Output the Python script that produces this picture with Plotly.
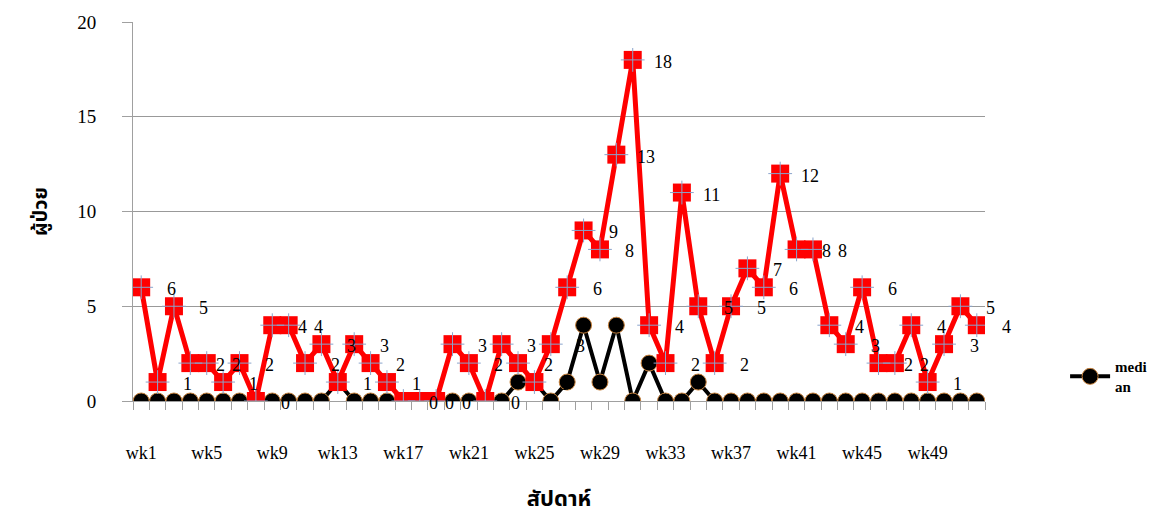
import plotly.graph_objects as go

weeks = [f"wk{i}" for i in range(1, 53)]
cases = [6, 1, 5, 2, 2, 1, 2, 0, 4, 4, 2, 3, 1, 3, 2, 1, 0, 0, 0, 3,
         2, 0, 3, 2, 1, 3, 6, 9, 8, 13, 18, 4, 2, 11, 5, 2, 5, 7, 6, 12,
         8, 8, 4, 3, 6, 2, 2, 4, 1, 3, 5, 4]
median = [0, 0, 0, 0, 0, 0, 0, 0, 0, 0, 0, 0, 1, 0, 0, 0, 0, 0, 0, 0,
          0, 0, 0, 1, 1, 0, 1, 4, 1, 4, 0, 2, 0, 0, 1, 0, 0, 0, 0, 0,
          0, 0, 0, 0, 0, 0, 0, 0, 0, 0, 0, 0]
tick_text = [w if i % 4 == 0 else "" for i, w in enumerate(weeks)]

serif = "Liberation Serif, Times New Roman, serif"
thai = "Noto Sans Thai, Noto Serif Thai, Loma, Tahoma, sans-serif"

fig = go.Figure()
fig.add_trace(go.Scatter(
    x=weeks, y=median, mode="lines+markers", name="<b>medi<br>an</b>",
    line=dict(color="black", width=4),
    marker=dict(symbol="circle", size=16, color="black",
                line=dict(color="#c8823c", width=1)),
))
fig.add_trace(go.Scatter(
    x=weeks, y=cases, mode="lines+markers", name="cases", showlegend=False,
    line=dict(color="#ff0000", width=5),
    marker=dict(symbol="square", size=18, color="#ff0000",
                line=dict(color="#ff0000", width=0)),
))
fig.add_trace(go.Scatter(
    x=weeks, y=cases, mode="markers", showlegend=False, hoverinfo="skip",
    marker=dict(symbol="cross-thin", size=17,
                line=dict(color="#8aa4cc", width=1)),
))

for w, v in zip(weeks, cases):
    fig.add_annotation(x=w, y=v, text=str(v), showarrow=False,
                       xshift=30, yshift=-2,
                       font=dict(family=serif, size=18, color="black"))

fig.update_layout(
    width=1155, height=521,
    margin=dict(l=125, r=178, t=14, b=128, autoexpand=False),
    paper_bgcolor="white", plot_bgcolor="white",
    showlegend=True,
    legend=dict(x=1.094, y=0.065, xanchor="left", yanchor="middle",
                itemwidth=40,
                font=dict(family=serif, size=15, color="black"),
                bgcolor="rgba(0,0,0,0)"),
    xaxis=dict(
        type="category", range=[-0.5, 51.5], automargin=False,
        tickmode="array", tickvals=weeks, ticktext=tick_text, tickangle=0,
        tickson="boundaries", ticks="outside", ticklen=8,
        tickcolor="#a0a0a0", showline=True, linecolor="#a0a0a0",
        showgrid=False, ticklabelstandoff=35,
        tickfont=dict(family=serif, size=18, color="black"),
        title=dict(text="<b>สัปดาห์</b>", standoff=29,
                   font=dict(family=thai, size=22, color="black")),
    ),
    yaxis=dict(
        range=[0, 20], dtick=5, ticks="outside", ticklen=10, automargin=False,
        tickcolor="#a0a0a0", showline=True, linecolor="#a0a0a0",
        showgrid=True, gridcolor="#999999", gridwidth=1,
        zeroline=False, ticklabelstandoff=22,
        tickfont=dict(family=serif, size=19, color="black"),
        title=dict(text="<b>ผู้ป่วย</b>", standoff=24,
                   font=dict(family=thai, size=20, color="black")),
    ),
)

fig.write_html("out.html")
